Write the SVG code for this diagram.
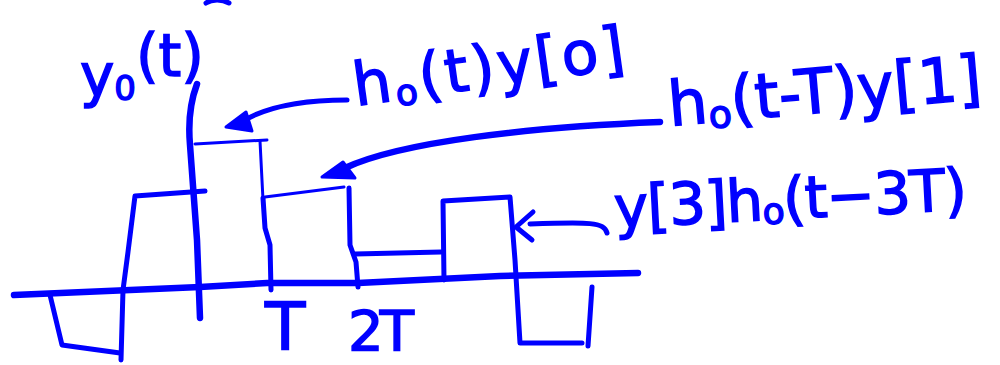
<svg xmlns="http://www.w3.org/2000/svg" width="1000" height="365" viewBox="0 0 1000 365">
<style>
.ink{fill:none;stroke:#0000ff;stroke-linecap:round;stroke-linejoin:round}
.thin{stroke-width:3}
.med{stroke-width:5}
.thick{stroke-width:6.5}
.lbl{fill:#0000ff;stroke:#0000ff;stroke-width:1.5;font-family:"DejaVu Sans","Liberation Sans",sans-serif}
.head{fill:#0000ff;stroke:#0000ff;stroke-width:3;stroke-linejoin:round}
</style>
<rect width="1000" height="365" fill="#ffffff"/>
<g id="fragment"><path class="ink med" d="M206,3 C212,-1 222,-1 229,3"/></g>
<g id="axes">
<path class="ink thick" d="M14,295 L200,287 L267,283 L358,283 L500,276 L638,273"/>
<path class="ink thick" d="M197,84 C191,100 188,122 190,145 L197,240 L200,318"/>
</g>
<g id="pulses">
<path class="ink med" d="M50,295 L62,345 L120,353"/>
<path class="ink med" d="M121,360 L123,290 L128,252 L135,196 L205,191"/>
<path class="ink thin" d="M195,144 L267,140"/>
<path class="ink thin" d="M260,141 L263,200"/>
<path class="ink med" d="M263,198 L265,228 L270,245 L271,290"/>
<path class="ink thin" d="M265,197 L344,187"/>
<path class="ink med" d="M349,188 L350,245 L356,262 L358,287"/>
<path class="ink med" d="M355,254 L441,252"/>
<path class="ink med" d="M444,280 L443,201 L510,197 L515,260 L520,343 L582,343"/>
<path class="ink med" d="M592,287 L588,346"/>
</g>
<g id="ticks">
<text class="lbl" x="265" y="350" font-size="66">T</text>
<text class="lbl" x="348" y="350" font-size="56" letter-spacing="-4">2T</text>
</g>
<g id="label-y0">
<text class="lbl" x="80" y="96" font-size="58">y<tspan font-size="34" dy="4">0</tspan><tspan dy="-24">(t)</tspan></text>
</g>
<g id="label-h0">
<text class="lbl" transform="rotate(-8 356 106)" x="356" y="106" font-size="60" letter-spacing="3">h<tspan font-size="36" dy="6">o</tspan><tspan dy="-6">(t)y[o]</tspan></text>
</g>
<g id="label-h1">
<text class="lbl" transform="rotate(-5 670 126)" x="670" y="126" font-size="62">h<tspan font-size="38" dy="6">o</tspan><tspan dy="-6">(t-T)y[1]</tspan></text>
</g>
<g id="label-h3">
<text class="lbl" transform="rotate(-3 615 228)" x="615" y="228" font-size="58" letter-spacing="-1">y[3]h<tspan font-size="36" dy="4">o</tspan><tspan dy="-4">(t−3T)</tspan></text>
</g>
<g id="connectors">
<path class="ink med" d="M347,100 C300,100 262,108 238,124"/>
<polygon class="head" points="226,127 246,112 252,131"/>
<path class="ink thick" d="M660,122 C530,127 400,142 345,168"/>
<polygon class="head" points="322,177 343,162 355,178"/>
<path class="ink med" d="M607,233 C604,222 590,222 530,224"/>
<path class="ink med" d="M533,212 L516,227 L532,240"/>
</g>
</svg>
